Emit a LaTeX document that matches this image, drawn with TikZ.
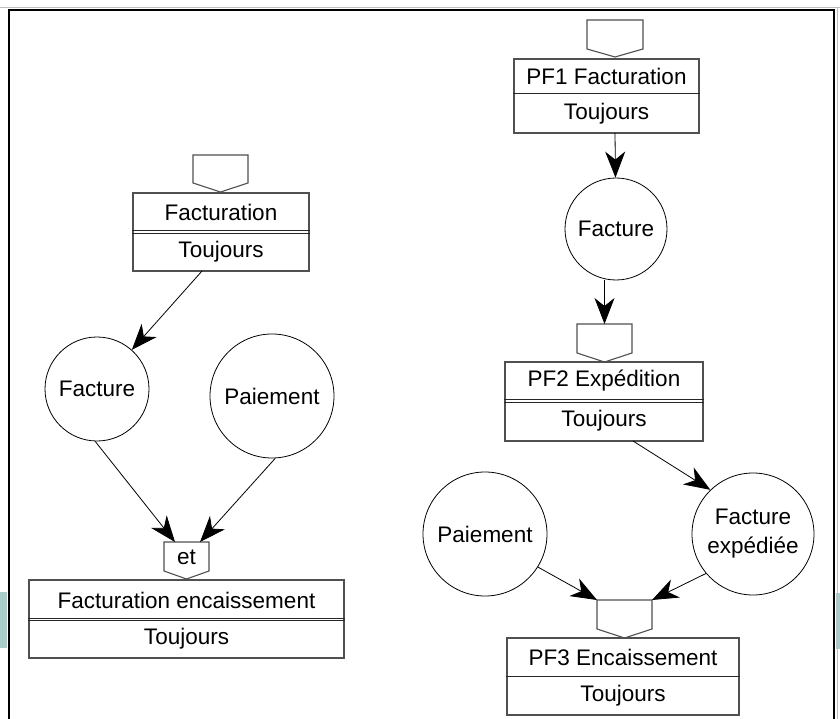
\documentclass[tikz,border=0pt]{standalone}
\usepackage{fontspec}
\setmainfont{Liberation Sans}
\usetikzlibrary{arrows.meta,calc}
\definecolor{stripteal}{RGB}{168,206,202}
\definecolor{boxgray}{RGB}{80,80,80}
\newcommand\pentshape[6]{% name, x1, x2, top, side, point
  \draw[pentst] (#2,#4) coordinate (#1tl) -- (#3,#4) coordinate (#1tr) -- (#3,#5) -- ({(#2+#3)/2},#6) coordinate (#1pt) -- (#2,#5) -- cycle;}
\begin{document}
\begin{tikzpicture}[x=1pt,y=-1pt,
  boxst/.style={draw=boxgray, line width=1.1pt, rectangle, inner sep=0pt},
  circst/.style={draw=black, line width=0.8pt, circle, inner sep=0pt, font=\fontsize{22.5}{29}\selectfont, align=center},
  txt/.style={inner sep=0pt, font=\fontsize{22.5}{26}\selectfont},
  pentst/.style={draw=boxgray, line width=1.1pt, fill=white},
  arr/.style={draw=black, line width=0.8pt, -{Stealth[length=26pt,width=20pt,inset=8pt]}},
  divst/.style={draw=black!85, line width=1pt}
]
\useasboundingbox (0,0) rectangle (840,719);
% background strips and frame
\fill[stripteal] (0,592) rectangle (7,648);
\fill[stripteal] (836,593) rectangle (840,649);
\draw[black!25, line width=1pt] (0,7.5) -- (840,7.5);
\draw[black!25, line width=1pt] (837,7.5) -- (837,719);
\draw[black, line width=2.2pt] (9.3,719) -- (9.3,10) -- (834,10) -- (834,719);

% ---------- left diagram ----------
\pentshape{pA}{193}{248}{155}{183}{192}
\node[boxst, minimum width=176pt, minimum height=78pt] (b1) at (221,232) {};
\draw[divst] (b1.west |- 0,231) -- (b1.east |- 0,231);
\draw[divst] (b1.west |- 0,233.5) -- (b1.east |- 0,233.5);
\node[txt] (b1t) at (221,212) {Facturation};
\node[txt] (b1b) at (221,252) {Toujours};
\coordinate (b1s) at (202,271);

\node[circst, minimum size=104pt] (facL) at (97,389) {Facture};
\node[circst, minimum size=124pt] (paiL) at (272,396) {Paiement};

\pentshape{pEt}{164}{209}{542}{571}{579}
\node[txt] (ett) at (186.5,557) {et};
\coordinate (etin1) at (175,542);
\coordinate (etin2) at (200,542);

\node[boxst, minimum width=315pt, minimum height=78pt] (b2) at (186.5,619) {};
\draw[divst] (b2.west |- 0,618) -- (b2.east |- 0,618);
\draw[divst] (b2.west |- 0,620.5) -- (b2.east |- 0,620.5);
\node[txt] (b2t) at (186.5,600) {Facturation encaissement};
\node[txt] (b2b) at (186.5,639) {Toujours};

\draw[arr] (b1s) -- (facL);
\draw[arr] (facL.268) -- (etin1);
\draw[arr] (paiL.273) -- (etin2);

% ---------- right diagram ----------
\pentshape{pB}{587}{643}{20}{49}{57}
\node[boxst, minimum width=185pt, minimum height=74pt] (pf1) at (606.5,96) {};
\draw[divst] (pf1.west |- 0,94) -- (pf1.east |- 0,94);
\node[txt] (pf1t) at (606.5,76) {PF1 Facturation};
\node[txt] (pf1b) at (606.5,114) {Toujours};
\coordinate (pf1s) at (615,133);

\node[circst, minimum size=102pt] (facR) at (616,229) {Facture};

\pentshape{pC}{577}{632}{324}{353}{362}
\coordinate (pCin) at (604.5,324);
\node[boxst, minimum width=198pt, minimum height=79pt] (pf2) at (604,401.5) {};
\draw[divst] (pf2.west |- 0,399.5) -- (pf2.east |- 0,399.5);
\draw[divst] (pf2.west |- 0,402) -- (pf2.east |- 0,402);
\node[txt] (pf2t) at (604,381) {PF2 Expédition};
\node[txt] (pf2b) at (604,421) {Toujours};
\coordinate (pf2s) at (633,441);

\node[circst, minimum size=124pt] (paiR) at (485,534) {Paiement};
\node[circst, minimum size=122pt] (fexp) at (753,534) {Facture\\expédiée};

\pentshape{pD}{597}{652}{600}{629}{638}
\node[boxst, minimum width=232pt, minimum height=77pt] (pf3) at (623,676.5) {};
\draw[divst] (pf3.west |- 0,676) -- (pf3.east |- 0,676);
\node[txt] (pf3t) at (623,657) {PF3 Encaissement};
\node[txt] (pf3b) at (623,696) {Toujours};

\draw[arr] (pf1s) -- (facR);
\draw[arr] (pCin |- facR.south) -- (pCin);
\draw[arr] (pf2s) -- (fexp.134);
\draw[arr] (paiR.328) -- (pDtl);
\draw[arr] (fexp.220) -- (pDtr);
\end{tikzpicture}
\end{document}
